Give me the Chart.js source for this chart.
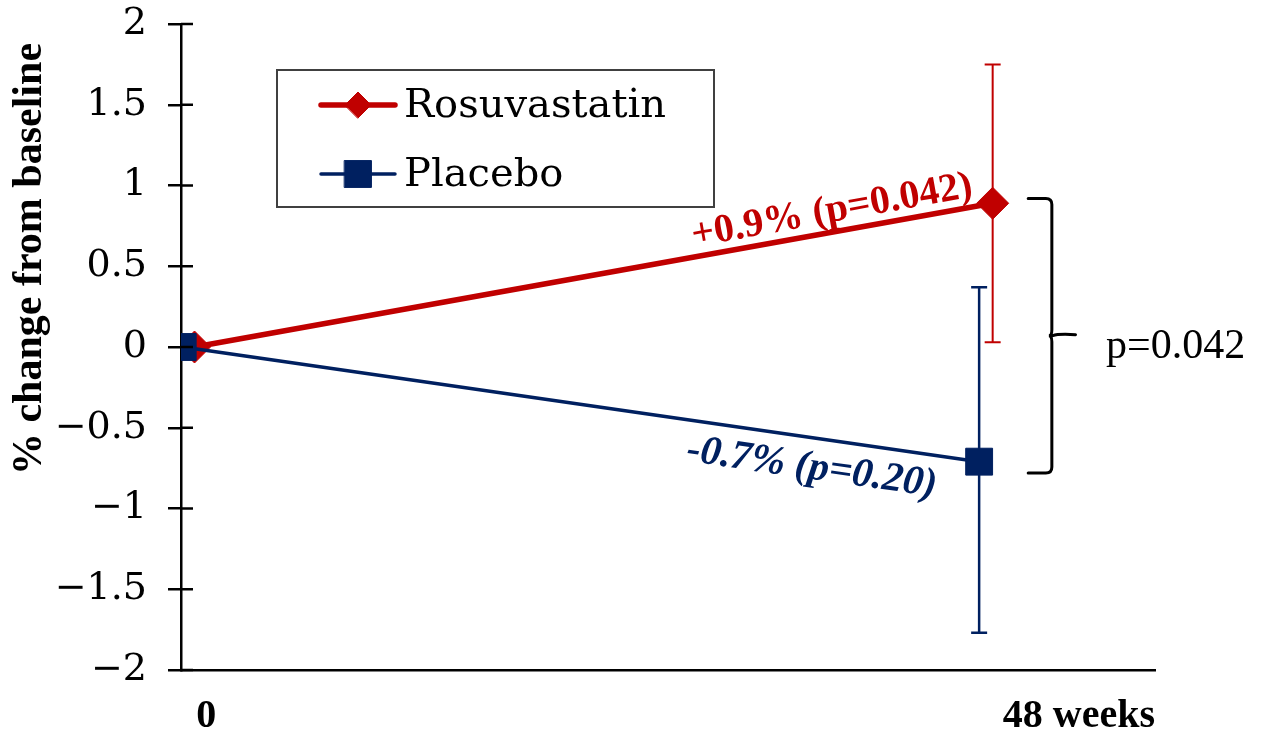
<!DOCTYPE html>
<html>
<head>
<meta charset="utf-8">
<script src="https://cdn.jsdelivr.net/npm/chart.js@4.4.1/dist/chart.umd.min.js"></script>
<style>
  html, body { margin: 0; padding: 0; background: #fff; }
</style>
</head>
<body>
<canvas id="myChart" width="1269" height="739"></canvas>
<script>
// Values
let series_names = ['Rosuvastatin', 'Placebo'];

// x in weeks (the two groups are nudged apart a little, like in the original)
let rosu_weeks = [0.8, 48];
let rosu_mean = [0, 0.89];
let rosu_err_low = [0, 0.03];
let rosu_err_high = [0, 1.75];

let placebo_weeks = [0.1, 47.2];
let placebo_mean = [0, -0.71];
let placebo_err_low = [0, -1.77];
let placebo_err_high = [0, 0.37];

let x_tick_weeks = [1.5, 53.1];
let x_tick_labels = ['0', '48 weeks'];

let y_title = '% change from baseline';
let rosu_note = '+0.9% (p=0.042)';
let placebo_note = '-0.7% (p=0.20)';
let diff_note = 'p=0.042';

let red = '#C00000';
let navy = '#002060';

// where the notes / bracket sit, in axis units (weeks, %)
let rosu_note_at = [38.5, 0.84];
let placebo_note_at = [37.3, -0.75];
let diff_note_at = [54.7, 0];
let bracket_weeks = [50.1, 51.5, 52.9];
let bracket_range = [0.92, -0.78];

//-----------Error bars------------------------
const errorBars = {
  id: 'errorBars',
  beforeDatasetsDraw(chart) {
    const ctx = chart.ctx, xs = chart.scales.x, ys = chart.scales.y;
    chart.data.datasets.forEach(ds => {
      ds.errLow.forEach((lo, i) => {
        const hi = ds.errHigh[i];
        if (lo === hi) return;
        const px = xs.getPixelForValue(ds.data[i].x);
        const top = ys.getPixelForValue(hi);
        const bot = ys.getPixelForValue(lo);
        ctx.save();
        ctx.strokeStyle = ds.borderColor;
        ctx.lineWidth = ds.errWidth;
        ctx.beginPath();
        ctx.moveTo(px, top); ctx.lineTo(px, bot);
        ctx.moveTo(px - 8, top); ctx.lineTo(px + 8, top);
        ctx.moveTo(px - 8, bot); ctx.lineTo(px + 8, bot);
        ctx.stroke();
        ctx.restore();
      });
    });
  }
};

//-----------Notes, bracket, legend box, y title------------------------
function drawNote(chart, ds, text, at, font, color) {
  const ctx = chart.ctx, xs = chart.scales.x, ys = chart.scales.y;
  const p0 = { x: xs.getPixelForValue(ds.data[0].x), y: ys.getPixelForValue(ds.data[0].y) };
  const p1 = { x: xs.getPixelForValue(ds.data[1].x), y: ys.getPixelForValue(ds.data[1].y) };
  const ang = Math.atan2(p1.y - p0.y, p1.x - p0.x);
  ctx.save();
  ctx.translate(xs.getPixelForValue(at[0]), ys.getPixelForValue(at[1]));
  ctx.rotate(ang);
  ctx.font = font;
  ctx.fillStyle = color;
  ctx.textAlign = 'center';
  ctx.textBaseline = 'middle';
  ctx.fillText(text, 0, 0);
  ctx.restore();
}

const extras = {
  id: 'extras',
  afterDraw(chart) {
    const ctx = chart.ctx, xs = chart.scales.x, ys = chart.scales.y;
    const area = chart.chartArea;

    // inner half of the y tick marks
    ctx.save();
    ctx.strokeStyle = '#000';
    ctx.lineWidth = 2.5;
    ys.ticks.forEach(t => {
      const py = ys.getPixelForValue(t.value);
      ctx.beginPath();
      ctx.moveTo(area.left, py);
      ctx.lineTo(area.left + 12, py);
      ctx.stroke();
    });
    ctx.restore();

    // y axis title
    ctx.save();
    ctx.translate(30, 259);
    ctx.rotate(-Math.PI / 2);
    ctx.font = 'bold 42px "Liberation Serif"';
    ctx.fillStyle = '#000';
    ctx.textAlign = 'center';
    ctx.textBaseline = 'middle';
    ctx.fillText(y_title, 0, 0);
    ctx.restore();

    const rosu = chart.data.datasets[0], plac = chart.data.datasets[1];
    drawNote(chart, rosu, rosu_note, rosu_note_at, 'bold 40px "Liberation Serif"', red);
    drawNote(chart, plac, placebo_note, placebo_note_at, 'italic bold 41px "Liberation Serif"', navy);

    // curly bracket
    const bl = xs.getPixelForValue(bracket_weeks[0]);
    const bv = xs.getPixelForValue(bracket_weeks[1]);
    const bt = xs.getPixelForValue(bracket_weeks[2]);
    const top = ys.getPixelForValue(bracket_range[0]);
    const bot = ys.getPixelForValue(bracket_range[1]);
    const mid = (top + bot) / 2;
    ctx.save();
    ctx.strokeStyle = '#000';
    ctx.lineWidth = 3;
    ctx.lineCap = 'round';
    ctx.beginPath();
    ctx.moveTo(bl, top);
    ctx.lineTo(bv - 6, top);
    ctx.quadraticCurveTo(bv, top, bv, top + 6);
    ctx.lineTo(bv, mid - 6);
    ctx.quadraticCurveTo(bv, mid, bv - 3, mid);
    ctx.quadraticCurveTo(bv, mid, bv, mid + 6);
    ctx.lineTo(bv, bot - 6);
    ctx.quadraticCurveTo(bv, bot, bv - 6, bot);
    ctx.lineTo(bl, bot);
    ctx.moveTo(bv + 1, mid);
    ctx.quadraticCurveTo(bv + 6, mid - 2, bt, mid - 1);
    ctx.stroke();
    ctx.restore();

    ctx.save();
    ctx.font = '42px "Liberation Serif"';
    ctx.fillStyle = '#000';
    ctx.textAlign = 'left';
    ctx.textBaseline = 'middle';
    ctx.fillText(diff_note, xs.getPixelForValue(diff_note_at[0]), ys.getPixelForValue(diff_note_at[1]));
    ctx.restore();

    // legend box
    ctx.save();
    ctx.fillStyle = '#fff';
    ctx.fillRect(277, 70, 437, 137);
    ctx.strokeStyle = '#404040';
    ctx.lineWidth = 2;
    ctx.strokeRect(277, 70, 437, 137);
    const rows = [105, 174];
    chart.data.datasets.forEach((ds, i) => {
      const y = rows[i];
      ctx.strokeStyle = ds.borderColor;
      ctx.lineWidth = ds.borderWidth;
      ctx.lineCap = 'round';
      ctx.beginPath();
      ctx.moveTo(321, y);
      ctx.lineTo(395, y);
      ctx.stroke();
      ctx.fillStyle = ds.pointBackgroundColor;
      ctx.strokeStyle = ds.pointBorderColor;
      ctx.lineWidth = 1;
      Chart.helpers.drawPoint(ctx, {
        pointStyle: ds.pointStyle,
        radius: ds.legendRadius,
        rotation: 0,
        borderWidth: 1
      }, 358, y);
      ctx.fillStyle = '#000';
      ctx.font = '40px "DejaVu Serif"';
      ctx.textAlign = 'left';
      ctx.textBaseline = 'middle';
      ctx.fillText(ds.label, 404, y + 2);
    });
    ctx.restore();
  }
};

//Drawing the chart
let ctx = document.getElementById('myChart').getContext('2d');
let mychart = new Chart(ctx, {
  type: 'line',
  data: {
    datasets: [
      {
        label: series_names[0],
        data: rosu_weeks.map((w, i) => ({ x: w, y: rosu_mean[i] })),
        errLow: rosu_err_low,
        errHigh: rosu_err_high,
        errWidth: 2,
        borderColor: red,
        backgroundColor: red,
        borderWidth: 5.5,
        pointStyle: 'rectRot',
        pointRadius: 16,
        legendRadius: 13,
        pointBackgroundColor: red,
        pointBorderColor: red,
        pointBorderWidth: 1,
        order: 1
      },
      {
        label: series_names[1],
        data: placebo_weeks.map((w, i) => ({ x: w, y: placebo_mean[i] })),
        errLow: placebo_err_low,
        errHigh: placebo_err_high,
        errWidth: 2.5,
        borderColor: navy,
        backgroundColor: navy,
        borderWidth: 3.5,
        pointStyle: 'rect',
        pointRadius: 19,
        legendRadius: 19,
        pointBackgroundColor: navy,
        pointBorderColor: navy,
        pointBorderWidth: 1,
        order: 0
      }
    ]
  },
  options: {
    responsive: false,
    animation: false,
    events: [],
    devicePixelRatio: 1,
    layout: { padding: { left: 0, right: 114, top: 24, bottom: 0 } },
    plugins: {
      legend: { display: false },
      tooltip: { enabled: false }
    },
    scales: {
      x: {
        type: 'linear',
        min: 0,
        max: 57.6,
        afterBuildTicks: (scale) => {
          scale.ticks = x_tick_weeks.map(v => ({ value: v }));
        },
        afterFit: (scale) => {
          scale.height = 69;
          scale.paddingLeft = 0;
          scale.paddingRight = 0;
        },
        grid: { display: false, drawTicks: false },
        border: { display: true, color: '#000', width: 2.5 },
        ticks: {
          autoSkip: false,
          maxRotation: 0,
          padding: 23,
          color: '#000',
          font: { family: 'Liberation Serif', size: 40, weight: 'bold' },
          callback: (value, index) => x_tick_labels[index]
        }
      },
      y: {
        min: -2,
        max: 2,
        afterFit: (scale) => {
          scale.width = 181;
          scale.paddingTop = 0;
          scale.paddingBottom = 0;
        },
        grid: { drawOnChartArea: false, drawTicks: true, tickLength: 13, color: '#000', lineWidth: 2.5 },
        border: { display: true, color: '#000', width: 2.5 },
        ticks: {
          stepSize: 0.5,
          padding: 21,
          color: '#000',
          font: { family: 'DejaVu Serif', size: 38 },
          callback: (value) => value < 0 ? '\u2212' + Math.abs(value) : String(value)
        }
      }
    }
  },
  plugins: [errorBars, extras]
});
</script>
</body>
</html>
